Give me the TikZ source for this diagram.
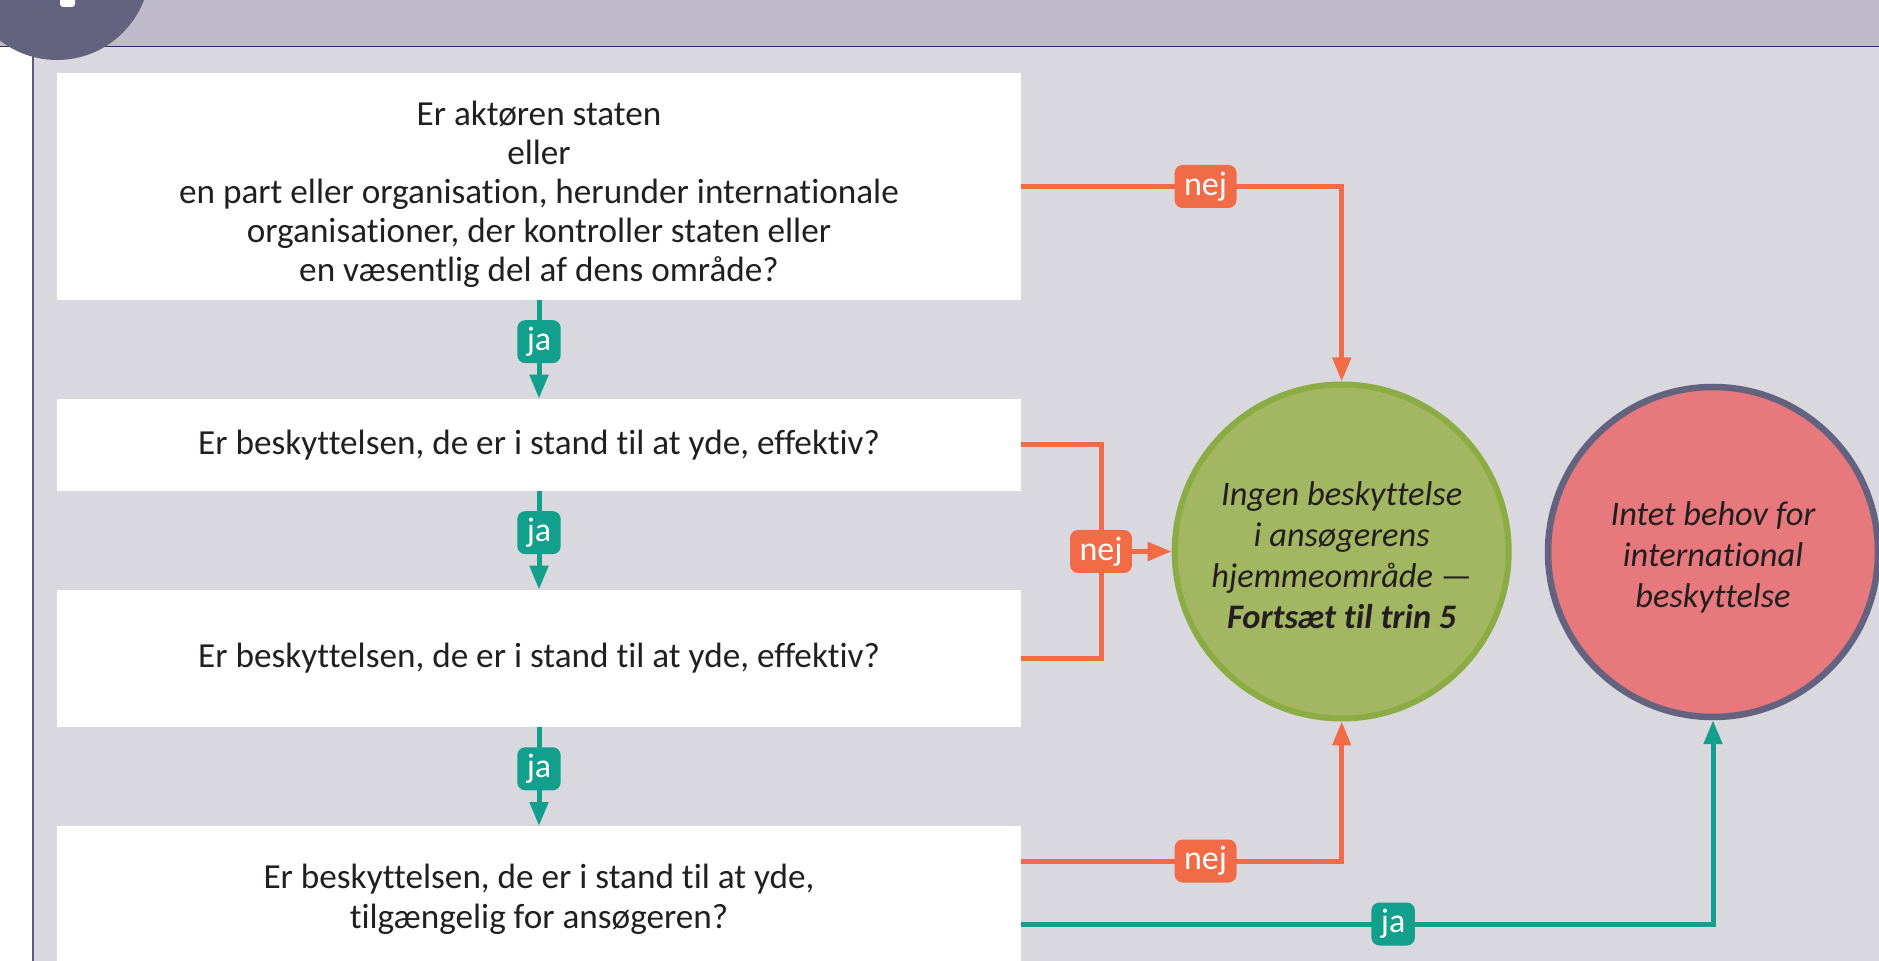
\documentclass[tikz,border=0pt]{standalone}
\usepackage{fontspec}
\setmainfont{Carlito}[Ligatures=NoCommon]
\usetikzlibrary{arrows.meta,calc}

\definecolor{barcol}{HTML}{BFBBCB}
\definecolor{bodycol}{HTML}{D9D8DF}
\definecolor{navycol}{HTML}{2E2D5C}
\definecolor{sidecol}{HTML}{5C5B80}
\definecolor{stepcol}{HTML}{63637F}
\definecolor{inkcol}{HTML}{231F20}
\definecolor{jacol}{HTML}{129F8B}
\definecolor{nejcol}{HTML}{F26B47}
\definecolor{grfill}{HTML}{A3B661}
\definecolor{grline}{HTML}{8BAC42}
\definecolor{redfill}{HTML}{E7787C}

\tikzset{
  nejline/.style={draw=nejcol, line width=2.5pt},
  jaline/.style={draw=jacol, line width=2.5pt},
  arr/.style={-{Triangle[length=12pt,width=9pt]}},
  lbl/.style={rounded corners=4pt, text=white, inner xsep=4.75pt, inner ysep=0pt,
    minimum height=21.5pt, font=\fontsize{17}{17}\selectfont},
  nejlbl/.style={lbl, fill=nejcol},
  jalbl/.style={lbl, fill=jacol},
  endcircle/.style={circle, align=center, text=inkcol,
    font=\itshape\fontsize{17.2}{20.5}\selectfont}
}

\begin{document}
\begin{tikzpicture}[x=0.5pt, y=-0.5pt]
   \useasboundingbox (0,0) rectangle (1879,961);
   % background, header bar and step badge
   \fill[barcol] (0,0) rectangle (1879,46);
   \fill[bodycol] (33,46) rectangle (1879,961);
   \draw[navycol, line width=0.75pt] (0,46.5) -- (1879,46.5);
   \draw[sidecol, line width=0.75pt] (33,46) -- (33,961);
   \fill[stepcol] (57,-33) circle (46.5pt);
   \fill[white, rounded corners=1.5pt] (60,-10) rectangle (75,7);

   \begin{scope}[every node/.style={fill=white, text=inkcol, minimum width=482pt,
       inner sep=0pt, align=center, font=\fontsize{17.6}{20}\selectfont}]
    \node[minimum height=113.5pt, font=\fontsize{17.6}{19.5}\selectfont] (q1) at (539,186.5) {\rule{0pt}{20pt}Er aktøren staten\\eller\\en part eller organisation, herunder internationale\\organisationer, der kontroller staten eller\\en væsentlig del af dens område?};
    \node[minimum height=46pt] (q2) at (539,445) {Er beskyttelsen, de er i stand til at yde, effektiv?};
    \node[minimum height=68.5pt] (q3) at (539,658.5) {Er beskyttelsen, de er i stand til at yde, effektiv?};
    \node[minimum height=73pt, anchor=north] (q4) at (539,826) {Er beskyttelsen, de er i stand til at yde,\\tilgængelig for ansøgeren?};
   \end{scope}

   \node[endcircle, fill=grfill, draw=grline, line width=3pt, minimum size=167pt] (g) at (1341.7,551.5) {\rule{0pt}{15.5pt}Ingen beskyttelse\\i ansøgerens\\hjemmeområde —\\\textbf{Fortsæt til trin 5}};
   \node[endcircle, fill=redfill, draw=stepcol, line width=3.25pt, minimum size=165pt] (r) at (1713,552) {\rule{0pt}{17.5pt}Intet behov for\\international\\beskyttelse};

   % ja arrows down the column
   \draw[jaline, arr] (q1) -- node[jalbl, pos=0.42] {ja} (q2);
   \draw[jaline, arr] (q2) -- node[jalbl, pos=0.42] {ja} (q3);
   \draw[jaline, arr] (q3) -- node[jalbl, pos=0.42] {ja} (q4);

   % nej branches
   \draw[nejline, arr] (q1.east) -- node[nejlbl, pos=0.575] {nej} (q1.east -| g.north) -- (g.north);
   \draw[nejline] (q2.east) -| (1101,551.5) coordinate (jn) |- (q3.east);
   \node[nejlbl] (n2) at (jn) {nej};
   \draw[nejline, arr] (n2.east) -- (g.west);

   \coordinate (b4n) at ($(q4.north east)+(0,35)$);
   \coordinate (b4j) at ($(q4.north east)+(0,98)$);
   \draw[nejline, arr] (b4n) -- node[nejlbl, pos=0.575] {nej} (b4n -| g.south) -- (g.south);
   \draw[jaline, arr] (b4j) -- node[jalbl, pos=0.5375] {ja} (b4j -| r.south) -- (r.south);
\end{tikzpicture}
\end{document}
